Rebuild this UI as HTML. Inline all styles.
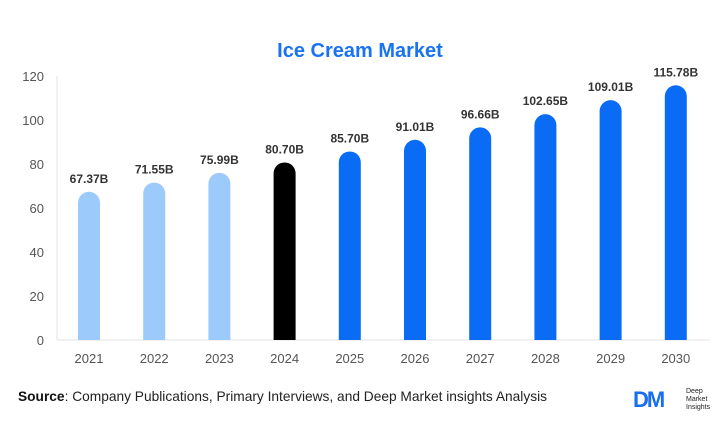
<!DOCTYPE html>
<html><head><meta charset="utf-8"><style>
body{margin:0;background:#fff;width:726px;height:443px;overflow:hidden;font-family:"Liberation Sans",sans-serif}
</style></head><body>
<svg width="726" height="443">
<text x="360" y="57" text-anchor="middle" font-size="20" font-weight="bold" fill="#1a73f0">Ice Cream Market</text>
<g id="axes"></g><g id="bars"></g>
<text x="18" y="401" font-size="14" fill="#222" textLength="529" lengthAdjust="spacingAndGlyphs"><tspan font-weight="bold" fill="#111">Source</tspan>: Company Publications, Primary Interviews, and Deep Market insights Analysis</text>
<g>
<text x="633" y="407" font-size="22" font-weight="bold" fill="#1a6ef0" letter-spacing="-2">DM</text>
<text x="686" y="393" font-size="7" fill="#222">Deep</text>
<text x="686" y="401" font-size="7" fill="#222">Market</text>
<text x="686" y="409" font-size="7" fill="#222">Insights</text>
</g>
</svg>
<script>
const years=["2021","2022","2023","2024","2025","2026","2027","2028","2029","2030"];
const values=[67.37,71.55,75.99,80.70,85.70,91.01,96.66,102.65,109.01,115.78];
const labels=["67.37B","71.55B","75.99B","80.70B","85.70B","91.01B","96.66B","102.65B","109.01B","115.78B"];
const colors=["#9ccbfb","#9ccbfb","#9ccbfb","#000000","#0a6cf5","#0a6cf5","#0a6cf5","#0a6cf5","#0a6cf5","#0a6cf5"];
const yTicks=[0,20,40,60,80,100,120];
const NS="http://www.w3.org/2000/svg";
const y=v=>340-v*2.2, x=i=>89+i*65.2;
function mk(t,a,p){const e=document.createElementNS(NS,t);for(const k in a)e.setAttribute(k,a[k]);p.appendChild(e);return e;}
const ax=document.getElementById('axes'), bg=document.getElementById('bars');
const yl=mk('line',{x1:57,x2:57,y1:76,y2:340,stroke:'#e3e3e3'},ax);


const xl=mk('line',{x1:57,x2:710,y1:340,y2:340,stroke:'#e3e3e3'},ax);


yTicks.forEach(t=>{const e=mk('text',{x:44,y:y(t)+5,'text-anchor':'end','font-size':13,fill:'#555'},ax);e.textContent=t;

});
years.forEach((yr,i)=>{
const cx=x(i),top=y(values[i]),w=22;
const b=mk('path',{d:`M${cx-w/2},340 V${top+w/2} A${w/2},${w/2} 0 0 1 ${cx+w/2},${top+w/2} V340 Z`,fill:colors[i]},bg);


const l=mk('text',{x:cx,y:top-9,'text-anchor':'middle','font-size':12,'font-weight':'bold',fill:'#333'},bg);l.textContent=labels[i];


const t=mk('text',{x:cx,y:363,'text-anchor':'middle','font-size':13,fill:'#555'},ax);t.textContent=yr;


});
</script>
</body></html>
